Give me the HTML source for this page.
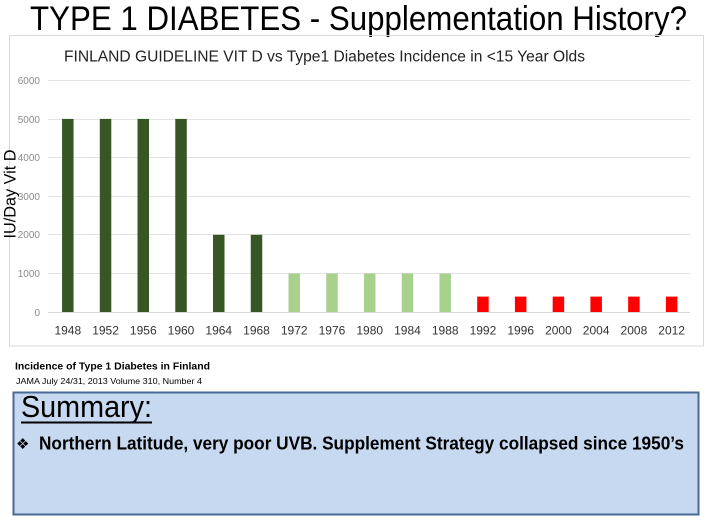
<!DOCTYPE html>
<html>
<head>
<meta charset="utf-8">
<style>
html,body{margin:0;padding:0;background:#fff;}
svg{display:block;}
</style>
</head>
<body>
<svg width="713" height="520" viewBox="0 0 713 520" xmlns="http://www.w3.org/2000/svg">
<rect x="0" y="0" width="713" height="520" fill="#ffffff"/>

<!-- Main title -->
<text x="30" y="30" font-family="Liberation Sans, sans-serif" font-size="34" fill="#000" textLength="657" lengthAdjust="spacingAndGlyphs">TYPE 1 DIABETES - Supplementation History?</text>

<!-- Chart frame -->
<rect x="9.5" y="35.5" width="694" height="310.5" fill="none" stroke="#d9d9d9" stroke-width="1"/>

<!-- Chart title -->
<text x="64" y="61.5" font-family="Liberation Sans, sans-serif" font-size="15.5" fill="#222" textLength="521" lengthAdjust="spacingAndGlyphs">FINLAND GUIDELINE VIT D vs Type1 Diabetes Incidence in &lt;15 Year Olds</text>

<!-- Gridlines -->
<g stroke="#e3e3e3" stroke-width="1">
<line x1="48" y1="80.5" x2="690" y2="80.5"/>
<line x1="48" y1="119.5" x2="690" y2="119.5"/>
<line x1="48" y1="157.5" x2="690" y2="157.5"/>
<line x1="48" y1="196.5" x2="690" y2="196.5"/>
<line x1="48" y1="234.5" x2="690" y2="234.5"/>
<line x1="48" y1="273.5" x2="690" y2="273.5"/>
<line x1="48" y1="312.5" x2="690" y2="312.5" stroke="#d9d9d9"/>
</g>

<!-- Y tick labels -->
<g font-family="Liberation Sans, sans-serif" font-size="10" fill="#8a8a8a" text-anchor="end">
<text x="40" y="84">6000</text>
<text x="40" y="123">5000</text>
<text x="40" y="161">4000</text>
<text x="40" y="200">3000</text>
<text x="40" y="238">2000</text>
<text x="40" y="277">1000</text>
<text x="40" y="316">0</text>
</g>

<!-- Y axis title -->
<text transform="translate(15.5,194) rotate(-90)" font-family="Liberation Sans, sans-serif" font-size="16.5" fill="#000" text-anchor="middle" textLength="89" lengthAdjust="spacingAndGlyphs">IU/Day Vit D</text>

<!-- Bars -->
<g fill="#375623">
<rect x="62.05" y="118.9" width="11.5" height="193.1"/>
<rect x="99.79" y="118.9" width="11.5" height="193.1"/>
<rect x="137.53" y="118.9" width="11.5" height="193.1"/>
<rect x="175.27" y="118.9" width="11.5" height="193.1"/>
<rect x="213.01" y="234.8" width="11.5" height="77.2"/>
<rect x="250.75" y="234.8" width="11.5" height="77.2"/>
</g>
<g fill="#a9d18e">
<rect x="288.49" y="273.4" width="11.5" height="38.6"/>
<rect x="326.23" y="273.4" width="11.5" height="38.6"/>
<rect x="363.97" y="273.4" width="11.5" height="38.6"/>
<rect x="401.71" y="273.4" width="11.5" height="38.6"/>
<rect x="439.45" y="273.4" width="11.5" height="38.6"/>
</g>
<g fill="#ff0000">
<rect x="477.19" y="296.6" width="11.5" height="15.4"/>
<rect x="514.93" y="296.6" width="11.5" height="15.4"/>
<rect x="552.67" y="296.6" width="11.5" height="15.4"/>
<rect x="590.41" y="296.6" width="11.5" height="15.4"/>
<rect x="628.15" y="296.6" width="11.5" height="15.4"/>
<rect x="665.89" y="296.6" width="11.5" height="15.4"/>
</g>

<!-- X labels -->
<g font-family="Liberation Sans, sans-serif" font-size="12" fill="#333" text-anchor="middle">
<text x="67.8" y="334.5">1948</text>
<text x="105.54" y="334.5">1952</text>
<text x="143.28" y="334.5">1956</text>
<text x="181.02" y="334.5">1960</text>
<text x="218.76" y="334.5">1964</text>
<text x="256.5" y="334.5">1968</text>
<text x="294.24" y="334.5">1972</text>
<text x="331.98" y="334.5">1976</text>
<text x="369.72" y="334.5">1980</text>
<text x="407.46" y="334.5">1984</text>
<text x="445.2" y="334.5">1988</text>
<text x="482.94" y="334.5">1992</text>
<text x="520.68" y="334.5">1996</text>
<text x="558.42" y="334.5">2000</text>
<text x="596.16" y="334.5">2004</text>
<text x="633.9" y="334.5">2008</text>
<text x="671.64" y="334.5">2012</text>
</g>

<!-- Source text -->
<text x="15" y="369.5" font-family="Liberation Sans, sans-serif" font-size="10.5" font-weight="bold" fill="#000" textLength="195" lengthAdjust="spacingAndGlyphs">Incidence of Type 1 Diabetes in Finland</text>
<text x="16" y="384" font-family="Liberation Sans, sans-serif" font-size="8.5" fill="#000" textLength="186" lengthAdjust="spacingAndGlyphs">JAMA July 24/31, 2013 Volume 310, Number 4</text>

<!-- Summary box -->
<rect x="13.5" y="392.5" width="685" height="122" fill="#c6d9f0" stroke="#4a6a96" stroke-width="2"/>
<text x="21" y="417" font-family="Liberation Sans, sans-serif" font-size="31" fill="#000" textLength="131" lengthAdjust="spacingAndGlyphs">Summary:</text>
<rect x="21" y="421.5" width="131" height="2" fill="#000"/>
<text x="16" y="449" font-family="DejaVu Sans, sans-serif" font-size="15" fill="#000">❖</text>
<text x="39" y="449.5" font-family="Liberation Sans, sans-serif" font-size="18" font-weight="bold" fill="#000" textLength="645" lengthAdjust="spacingAndGlyphs">Northern Latitude, very poor UVB. Supplement Strategy collapsed since 1950’s</text>
</svg>
</body>
</html>
